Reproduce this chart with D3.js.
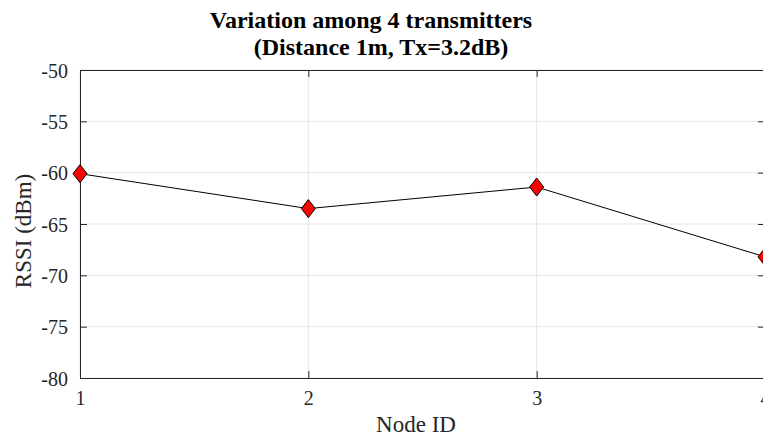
<!DOCTYPE html>
<html><head><meta charset="utf-8">
<script src="https://cdn.jsdelivr.net/npm/d3@7"></script>
<style>html,body{margin:0;padding:0;background:#fff;overflow:hidden}svg{display:block}</style>
</head><body>
<script>
const nodeIds = [1, 2, 3, 4];
const rssi = [-60.1, -63.5, -61.4, -68.2];
const yTicks = [-80, -75, -70, -65, -60, -55, -50];
const xTicks = [1, 2, 3, 4];
const titleLines = ["Variation among 4 transmitters", "(Distance 1m, Tx=3.2dB)"];

(function () {
const W = 763, H = 439;
const L = 80, R = 765, T = 70, B = 378;
const FONT = "Liberation Serif";
const axisColor = "#262626";

const svg = d3.select("body").append("svg").attr("width", W).attr("height", H);
const x = d3.scaleLinear().domain([1, 4]).range([L, R]);
const y = d3.scaleLinear().domain([-80, -50]).range([B, T]);

// grid
const g = svg.append("g");
g.selectAll(".gx").data(xTicks).join("line")
  .attr("x1", d => x(d)).attr("x2", d => x(d)).attr("y1", T).attr("y2", B)
  .attr("stroke", "#e5e5e5").attr("stroke-width", 1);
g.selectAll(".gy").data(yTicks).join("line")
  .attr("x1", L).attr("x2", R).attr("y1", d => y(d)).attr("y2", d => y(d))
  .attr("stroke", "#e5e5e5").attr("stroke-width", 1);

// axes (MATLAB box, inward ticks)
const tl = 7;
const axB = svg.append("g").attr("transform", `translate(0,${B})`)
  .call(d3.axisBottom(x).tickValues(xTicks).tickFormat(d3.format("d")).tickSizeInner(-tl).tickSizeOuter(0).tickPadding(13));
const axL = svg.append("g").attr("transform", `translate(${L},0)`)
  .call(d3.axisLeft(y).tickValues(yTicks).tickFormat(d => d).tickSizeInner(-tl).tickSizeOuter(0).tickPadding(12));
const axT = svg.append("g").attr("transform", `translate(0,${T})`)
  .call(d3.axisTop(x).tickValues(xTicks).tickFormat("").tickSizeInner(-tl).tickSizeOuter(0));
const axR = svg.append("g").attr("transform", `translate(${R},0)`)
  .call(d3.axisRight(y).tickValues(yTicks).tickFormat("").tickSizeInner(-tl).tickSizeOuter(0));
[axB, axL, axT, axR].forEach(a => {
  a.attr("font-family", FONT).attr("font-size", 20);
  a.selectAll("path").attr("stroke", axisColor).attr("stroke-width", 1);
  a.selectAll("line").attr("stroke", axisColor).attr("stroke-width", 1);
  a.selectAll("text").attr("fill", axisColor).attr("font-family", FONT).attr("font-size", 20);
});
axL.selectAll("text").attr("dy", "0.35em");

// line
const line = d3.line().x((d, i) => x(nodeIds[i])).y(d => y(d));
svg.append("path").datum(rssi).attr("d", line)
  .attr("fill", "none").attr("stroke", "#000").attr("stroke-width", 1);

// diamonds
const hw = 7, hh = 9;
svg.selectAll(".m").data(rssi).join("path")
  .attr("d", (d, i) => {
    const cx = x(nodeIds[i]), cy = y(d);
    return `M${cx},${cy - hh}L${cx + hw},${cy}L${cx},${cy + hh}L${cx - hw},${cy}Z`;
  })
  .attr("fill", "#ff0000").attr("stroke", "#000").attr("stroke-width", 1);

// title
svg.append("text").attr("x", 371).attr("y", 28).attr("text-anchor", "middle")
  .attr("font-family", FONT).attr("font-size", 24).attr("font-weight", "bold")
  .text(titleLines[0]);
svg.append("text").attr("x", 381).attr("y", 55).attr("text-anchor", "middle")
  .attr("font-family", FONT).attr("font-size", 24).attr("font-weight", "bold")
  .text(titleLines[1]);

// axis labels
svg.append("text").attr("x", 416).attr("y", 432).attr("text-anchor", "middle")
  .attr("fill", axisColor).attr("font-family", FONT).attr("font-size", 23).text("Node ID");
svg.append("text").attr("transform", `translate(31,231) rotate(-90)`).attr("text-anchor", "middle")
  .attr("fill", axisColor).attr("font-family", FONT).attr("font-size", 23).text("RSSI (dBm)");
})();
</script>
</body></html>
